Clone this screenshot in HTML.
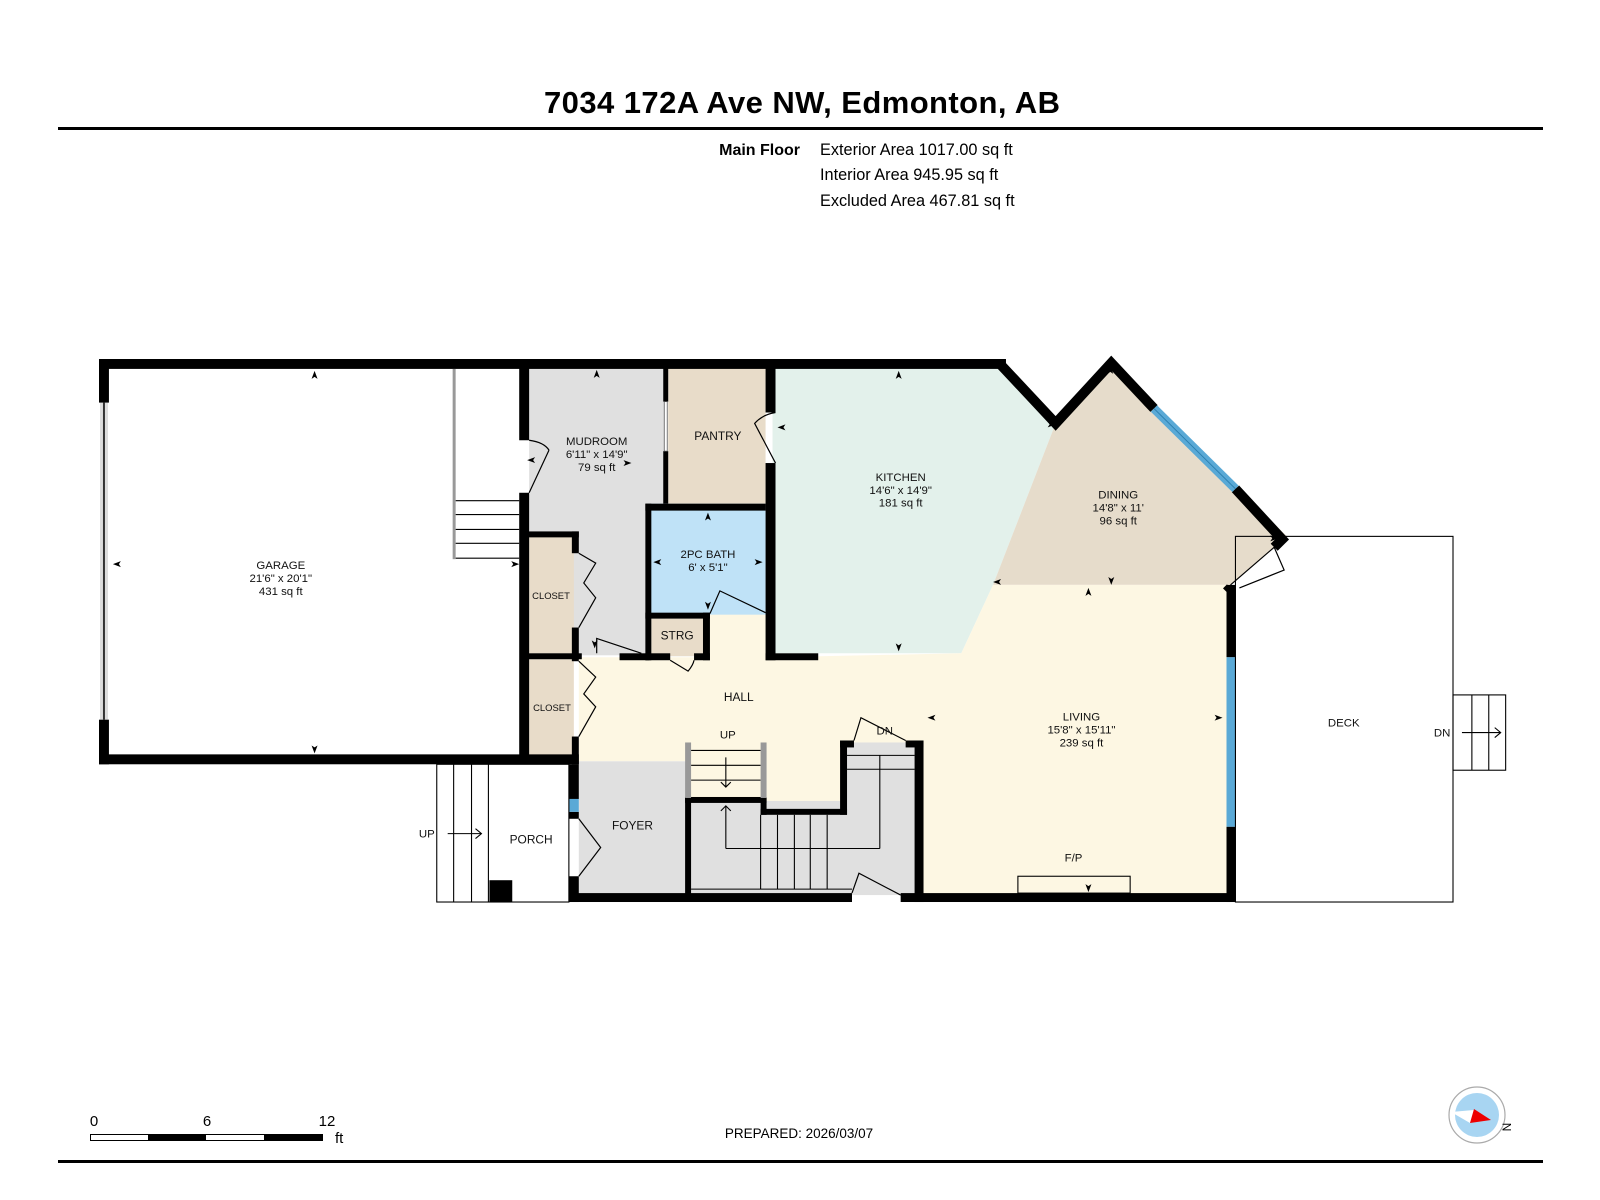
<!DOCTYPE html>
<html><head><meta charset="utf-8"><style>
html,body{margin:0;padding:0;background:#fff;}
svg{display:block;font-family:"Liberation Sans",Arial,sans-serif;}
</style></head><body>
<svg width="1600" height="1200" viewBox="0 0 1600 1200" xmlns="http://www.w3.org/2000/svg">
<!-- header -->
<text x="802" y="113" font-size="31" font-weight="bold" text-anchor="middle" textLength="516">7034 172A Ave NW, Edmonton, AB</text>
<rect x="58" y="127" width="1485" height="3" fill="#000"/>
<text x="800" y="155" font-size="16" font-weight="bold" text-anchor="end">Main Floor</text>
<text x="820" y="155" font-size="16.3">Exterior Area 1017.00 sq ft</text>
<text x="820" y="180" font-size="16.3">Interior Area 945.95 sq ft</text>
<text x="820" y="206" font-size="16.3">Excluded Area 467.81 sq ft</text>

<g transform="translate(99,359) scale(0.9934,0.9909) translate(-97,-359)">
<!-- room fills -->
<rect x="530" y="366" width="137" height="292" fill="#e0e0e0"/>
<rect x="670" y="366" width="98" height="140" fill="#e8dcc9"/>
<polygon points="775,366 1006,366 1060,424 997,587 965,656 775,656" fill="#e3f1eb"/>
<polygon points="1060,424 1116,364 1293,538 1236,587 997,587" fill="#e6dccb"/>
<polygon points="580,660 775,660 965,656 997,587 1236,587 1236,900 927,900 927,746 850,746 850,816 769,816 769,765 580,765" fill="#fdf7e3"/>
<rect x="705" y="612" width="66" height="50" fill="#fdf7e3"/>
<rect x="580" y="765" width="110" height="135" fill="#e0e0e0"/>
<rect x="690" y="805" width="160" height="95" fill="#e0e0e0"/>
<rect x="848" y="746" width="77" height="154" fill="#e0e0e0"/>
<rect x="650" y="505" width="118" height="112" fill="#bfe2f7"/>
<rect x="653" y="621" width="52" height="38" fill="#e8dcc9"/>
<rect x="530" y="538" width="45" height="118" fill="#e8dcc9"/>
<rect x="530" y="662" width="45" height="97" fill="#e8dcc9"/>
<rect x="690" y="746" width="79" height="56" fill="#fdf7e3"/>

<!-- garage stair -->
<g stroke="#000" stroke-width="1.2" fill="none">
<line x1="456" y1="502" x2="520" y2="502"/><line x1="456" y1="516" x2="520" y2="516"/><line x1="456" y1="531" x2="520" y2="531"/><line x1="456" y1="545" x2="520" y2="545"/><line x1="456" y1="560" x2="520" y2="560"/>
</g>
<rect x="453" y="369" width="3" height="192" fill="#999"/>
<rect x="98" y="403" width="8" height="320" fill="#ddd"/>
<rect x="101" y="403" width="2" height="320" fill="#333"/>

<!-- walls -->
<g fill="#000">
<rect x="97" y="359" width="913" height="10"/>
<rect x="97" y="359" width="10" height="44"/>
<rect x="97" y="723" width="10" height="45"/>
<rect x="97" y="758" width="483" height="10"/>
<rect x="520" y="359" width="10" height="82"/>
<rect x="520" y="494" width="10" height="270"/>
<rect x="665" y="366" width="5" height="36"/>
<rect x="665" y="452" width="5" height="53"/>
<rect x="528" y="533" width="52" height="6"/>
<rect x="573" y="533" width="7" height="22"/>
<rect x="573" y="630" width="7" height="34"/>
<rect x="528" y="656" width="55" height="6"/>
<rect x="573" y="740" width="7" height="28"/>
<rect x="768" y="366" width="10" height="47"/>
<rect x="768" y="464" width="10" height="199"/>
<rect x="768" y="656" width="53" height="7"/>
<rect x="647" y="505" width="121" height="7"/>
<rect x="647" y="505" width="6" height="158"/>
<rect x="647" y="615" width="65" height="6"/>
<rect x="705" y="615" width="7" height="48"/>
<rect x="647" y="656" width="25" height="7"/>
<rect x="696" y="656" width="16" height="7"/>
<rect x="621" y="656" width="30" height="7"/>
<rect x="570" y="768" width="10" height="35"/>
<rect x="570" y="816" width="10" height="7"/>
<rect x="570" y="881" width="10" height="26"/>
<rect x="570" y="898" width="285" height="9"/>
<rect x="687" y="801" width="82" height="6"/>
<rect x="687" y="801" width="6" height="101"/>
<rect x="763" y="801" width="6" height="18"/>
<rect x="763" y="813" width="87" height="6"/>
<rect x="843" y="744" width="7" height="75"/>
<rect x="843" y="744" width="14" height="7"/>
<rect x="909" y="744" width="18" height="7"/>
<rect x="918" y="744" width="9" height="163"/>
<rect x="904" y="898" width="337" height="9"/>
<rect x="1232" y="587" width="9" height="73"/>
<rect x="1232" y="831" width="9" height="76"/>
<rect x="490" y="885" width="23" height="22"/>
</g>
<g stroke="#000" stroke-width="10" fill="none" stroke-linejoin="miter">
<polyline points="1004,364 1060,424 1116,363 1159,409"/>
<polyline points="1241,490 1288,541 1280,549"/>
</g>
<line x1="1236" y1="590" x2="1232" y2="594" stroke="#000" stroke-width="10"/>
<line x1="1159" y1="409" x2="1241" y2="490" stroke="#5aa9d6" stroke-width="9"/>
<line x1="1159" y1="409" x2="1241" y2="490" stroke="#2a7fb0" stroke-width="1"/>
<rect x="1232" y="660" width="9" height="171" fill="#5aa9d6"/>
<rect x="570" y="803" width="10" height="13" fill="#5aa9d6"/>
<rect x="666" y="402" width="3" height="50" fill="#fff" stroke="#555" stroke-width="0.8"/>

<!-- doors -->
<g stroke="#000" stroke-width="1.2" fill="none">
<path d="M530,494 L550,451 M530,441 Q545,443 550,451"/>
<path d="M778,464 L757,424 Q765,415 778,413"/>
<path d="M580,630 L597,600 L585,585 L597,565 L580,555"/>
<path d="M580,740 L597,710 L585,697 L597,680 L580,664"/>
<path d="M580,823 L602,852 L580,881"/>
<path d="M598,656 L598,641 L643,656"/>
<path d="M672,663 L690,674 Q695,668 696,663"/>
<path d="M712,616 L722,593 L768,615"/>
<path d="M857,744 L864,721 L909,744"/>
<path d="M855,898 L862,878 L904,900"/>
<path d="M1236,587 L1280,549 L1290,572 L1245,590"/>
</g>

<!-- hall stair -->
<g stroke="#000" stroke-width="1.1" fill="none">
<line x1="693" y1="754" x2="763" y2="754"/><line x1="693" y1="769" x2="763" y2="769"/><line x1="693" y1="784" x2="763" y2="784"/>
<path d="M728,761 V791 M723,786 L728,791 L733,786"/>
<path d="M728,853 V810 M723,815 L728,810 L733,815"/>
<line x1="728" y1="853" x2="883" y2="853"/>
<line x1="883" y1="759" x2="883" y2="853"/>
<line x1="850" y1="773" x2="918" y2="773"/>
<line x1="850" y1="759" x2="918" y2="759"/>
<line x1="780" y1="819" x2="780" y2="894"/><line x1="797" y1="819" x2="797" y2="894"/><line x1="813" y1="819" x2="813" y2="894"/><line x1="830" y1="819" x2="830" y2="894"/>
<line x1="763" y1="819" x2="763" y2="894"/>
<line x1="693" y1="894" x2="855" y2="894"/>
</g>
<rect x="687" y="746" width="6" height="56" fill="#999"/>
<rect x="763" y="746" width="6" height="56" fill="#999"/>

<!-- porch -->
<g stroke="#000" stroke-width="1.1" fill="none">
<rect x="437" y="768" width="133" height="139"/>
<line x1="454" y1="768" x2="454" y2="907"/><line x1="472" y1="768" x2="472" y2="907"/><line x1="489" y1="768" x2="489" y2="907"/>
<path d="M448,838 H482 M476,833 L482,838 L476,843"/>
</g>
<!-- deck -->
<g stroke="#000" stroke-width="1.1" fill="none">
<rect x="1241" y="538" width="219" height="369"/>
<rect x="1460" y="698" width="53" height="76"/>
<line x1="1479" y1="698" x2="1479" y2="774"/><line x1="1496" y1="698" x2="1496" y2="774"/>
<path d="M1469,736 H1508 M1502,731 L1508,736 L1502,741"/>
<rect x="1022" y="881" width="113" height="17"/>
</g>

<!-- arrowheads -->
<g fill="#000">
<path d="M314,371 l-3,8 3,-2 3,2z"/><path d="M314,757 l-3,-8 3,2 3,-2z"/>
<path d="M111,566 l8,-3 -2,3 2,3z"/><path d="M520,566 l-8,-3 2,3 -2,3z"/>
<path d="M598,370 l-3,8 3,-2 3,2z"/><path d="M633,464 l-8,-3 2,3 -2,3z"/>
<path d="M528,461 l8,-3 -2,3 2,3z"/><path d="M780,428 l8,-3 -2,3 2,3z"/>
<path d="M902,371 l-3,8 3,-2 3,2z"/><path d="M902,654 l-3,-8 3,2 3,-2z"/>
<path d="M1060,425 l-8,-3 2,3 -2,3z"/><path d="M1115,366 l-3,8 3,-2 3,2z"/>
<path d="M1116,587 l-3,-8 3,2 3,-2z"/><path d="M997,584 l8,-3 -2,3 2,3z"/>
<path d="M1284,540 l-8,-3 2,3 -2,3z"/><path d="M1093,590 l-3,8 3,-2 3,2z"/>
<path d="M931,721 l8,-3 -2,3 2,3z"/><path d="M1228,721 l-8,-3 2,3 -2,3z"/>
<path d="M1093,897 l-3,-8 3,2 3,-2z"/>
<path d="M710,514 l-3,8 3,-2 3,2z"/><path d="M655,564 l8,-3 -2,3 2,3z"/><path d="M765,564 l-8,-3 2,3 -2,3z"/><path d="M710,612 l-3,-8 3,2 3,-2z"/>
<path d="M596,651 l-3,-8 3,2 3,-2z"/>
</g>

<!-- labels -->
<g font-size="11.5" text-anchor="middle" fill="#111">
<text x="280" y="571">GARAGE</text><text x="280" y="584">21'6" x 20'1"</text><text x="280" y="597">431 sq ft</text>
<text x="598" y="446">MUDROOM</text><text x="598" y="459">6'11" x 14'9"</text><text x="598" y="472">79 sq ft</text>
<text x="720" y="441" font-size="12">PANTRY</text>
<text x="710" y="560">2PC BATH</text><text x="710" y="573">6' x 5'1"</text>
<text x="679" y="642" font-size="12">STRG</text>
<text x="552" y="601" font-size="9.5">CLOSET</text><text x="553" y="714" font-size="9.5">CLOSET</text>
<text x="741" y="704" font-size="12">HALL</text>
<text x="730" y="742">UP</text>
<text x="634" y="834" font-size="12">FOYER</text>
<text x="532" y="848" font-size="12">PORCH</text>
<text x="427" y="842">UP</text>
<text x="888" y="738">DN</text>
<text x="904" y="482">KITCHEN</text><text x="904" y="495">14'6" x 14'9"</text><text x="904" y="508">181 sq ft</text>
<text x="1123" y="500">DINING</text><text x="1123" y="513">14'8" x 11'</text><text x="1123" y="526">96 sq ft</text>
<text x="1086" y="724">LIVING</text><text x="1086" y="737">15'8" x 15'11"</text><text x="1086" y="750">239 sq ft</text>
<text x="1078" y="866">F/P</text>
<text x="1350" y="730">DECK</text>
<text x="1449" y="740">DN</text>
</g>
</g>

<!-- scale bar -->
<g font-size="15">
<text x="94" y="1126" text-anchor="middle">0</text>
<text x="207" y="1126" text-anchor="middle">6</text>
<text x="327" y="1126" text-anchor="middle">12</text>
<text x="335" y="1143">ft</text>
</g>
<rect x="90.5" y="1134.5" width="232" height="6" fill="#fff" stroke="#000"/>
<rect x="148" y="1134" width="58" height="7" fill="#000"/>
<rect x="264" y="1134" width="59" height="7" fill="#000"/>
<text x="799" y="1138" font-size="13.5" text-anchor="middle">PREPARED: 2026/03/07</text>

<!-- compass -->
<circle cx="1477" cy="1115" r="28" fill="#fff" stroke="#aaa" stroke-width="1.2"/>
<circle cx="1477" cy="1115" r="22" fill="#a8d5f2"/>
<polygon points="1451,1112 1474,1110 1470,1123" fill="#fff"/>
<polygon points="1474,1109 1491,1120 1470,1123" fill="#e00"/>
<text x="1507" y="1131" font-size="12" transform="rotate(-90 1507 1127)" text-anchor="middle">N</text>

<rect x="58" y="1160" width="1485" height="3" fill="#000"/>
</svg>
</body></html>
